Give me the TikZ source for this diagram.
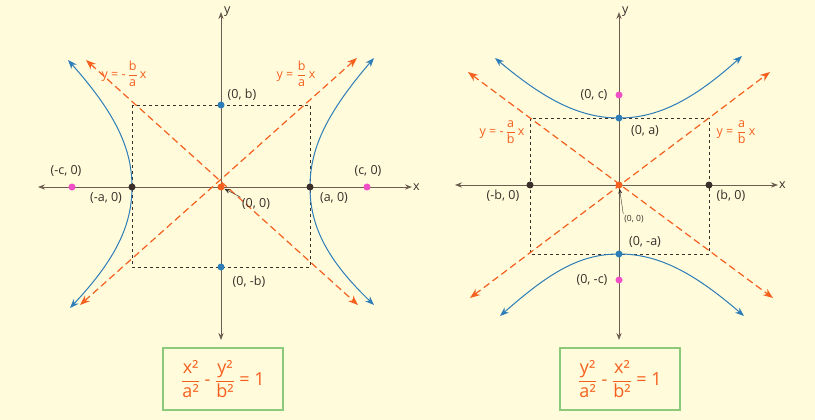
\documentclass[tikz,border=0pt]{standalone}
\usepackage{fontspec}
\usepackage{amsmath}
\setmainfont{Open Sans}
\usetikzlibrary{arrows.meta,positioning}
\definecolor{bgyel}{HTML}{FFFBDB}
\definecolor{asym}{HTML}{F5601E}
\definecolor{curve}{HTML}{2D7DB8}
\definecolor{focus}{HTML}{F04FC6}
\definecolor{axis}{HTML}{6E5E52}
\definecolor{ink}{HTML}{3A2F2A}
\definecolor{frame}{HTML}{8CC97A}
\newcommand{\fr}[2]{$\dfrac{\text{#1}}{\text{#2}}$}
\tikzset{
  axisline/.style={draw=axis,line width=1pt,{Stealth[length=7pt]}-{Stealth[length=7pt]}},
  asymline/.style={draw=asym,dashed,dash pattern=on 7pt off 4pt,line width=1.2pt,{Stealth[length=10pt]}-{Stealth[length=10pt]}},
  branch/.style={draw=curve,line width=1pt,{Stealth[length=9pt]}-{Stealth[length=9pt]}},
  boxline/.style={draw=ink,dashed,line width=0.8pt},
  dot/.style={circle,fill=#1,inner sep=0pt,minimum size=7pt},
  lbl/.style={text=ink,font=\fontsize{12.5}{14}\selectfont,inner sep=1pt},
  albl/.style={text=asym,font=\fontsize{12.5}{14}\selectfont,inner sep=1pt},
  eqbox/.style={draw=frame,line width=1.2pt,minimum width=120pt,minimum height=62pt,text=asym,font=\fontsize{18}{20}\selectfont}
}
\begin{document}
\begin{tikzpicture}[x=1pt,y=-1pt]
  \fill[bgyel] (0,0) rectangle (815,420);
  % left: x^2/a^2 - y^2/b^2 = 1
  \coordinate (lxl) at (38,187); \coordinate (lxr) at (412,187);
  \coordinate (lyt) at (221,12); \coordinate (lyb) at (221,340);
  \draw[axisline] (lxl) -- (lxr);
  \draw[axisline] (lyt) -- (lyb);
  \node[lbl,right] at (lxr) {x};
  \node[lbl,right=2pt] at (lyt) {y};
  \draw[boxline] (132,105) rectangle (310,267);
  \coordinate (lul) at (86,60); \coordinate (llr) at (358,305);
  \coordinate (lur) at (357,58); \coordinate (lll) at (80,305);
  \draw[asymline] (lul) -- (llr);
  \draw[asymline] (lll) -- (lur);
  \draw[branch] (374,58) .. controls (325,115) and (310,150) .. (310,187)
                .. controls (310,224) and (325,258) .. (374,305);
  \draw[branch] (68,60) .. controls (117,115) and (132,150) .. (132,187)
                .. controls (132,224) and (117,258) .. (70,308);
  \node[dot=ink] (lva) at (132,187) {}; \node[dot=ink] (lvb) at (310,187) {};
  \node[dot=focus] (lfa) at (72,187) {}; \node[dot=focus] (lfb) at (367,187) {};
  \node[dot=curve] (lcb) at (221,105) {}; \node[dot=curve] (lcd) at (221,267) {};
  \node[dot=asym] (lo) at (221,187) {};
  \node[albl] at (124,74) {y = -\,\fr{b}{a}\,x};
  \node[albl] at (296,74) {y = \fr{b}{a}\,x};
  \node[lbl] at (242,95) {(0, b)};
  \node[lbl] at (249,282) {(0, -b)};
  \node[lbl] at (66,171) {(-c, 0)};
  \node[lbl] at (368,171) {(c, 0)};
  \node[lbl] at (106,198) {(-a, 0)};
  \node[lbl] at (334,198) {(a, 0)};
  \node[lbl] (llo) at (256,204) {(0, 0)};
  \draw[ink,-{Stealth[length=6pt]}] (llo.north west) -- (lo);
  \node[eqbox] (leq) at (223,379) {\fr{x²}{a²} - \fr{y²}{b²} = 1};
  % right: y^2/a^2 - x^2/b^2 = 1
  \coordinate (rxl) at (455,185); \coordinate (rxr) at (778,185);
  \coordinate (ryt) at (619,12); \coordinate (ryb) at (619,340);
  \draw[axisline] (rxl) -- (rxr);
  \draw[axisline] (ryt) -- (ryb);
  \node[lbl,right] at (rxr) {x};
  \node[lbl,right=2pt] at (ryt) {y};
  \draw[boxline] (530,118) rectangle (709,254);
  \coordinate (rul) at (468,72); \coordinate (rlr) at (773,298);
  \coordinate (rur) at (770,72); \coordinate (rll) at (470,298);
  \draw[asymline] (rul) -- (rlr);
  \draw[asymline] (rll) -- (rur);
  \draw[branch] (495,58) .. controls (545,100) and (580,118) .. (619,118)
                .. controls (658,118) and (693,100) .. (742,56);
  \draw[branch] (500,316) .. controls (550,272) and (580,254) .. (619,254)
                .. controls (658,254) and (693,272) .. (744,316);
  \node[dot=ink] (rva) at (530,185) {}; \node[dot=ink] (rvb) at (709,185) {};
  \node[dot=focus] (rfa) at (619,95) {}; \node[dot=focus] (rfb) at (619,280) {};
  \node[dot=curve] (rca) at (619,118) {}; \node[dot=curve] (rcb) at (619,254) {};
  \node[dot=asym] (ro) at (619,185) {};
  \node[albl] at (502,132) {y = -\,\fr{a}{b}\,x};
  \node[albl] at (736,132) {y = \fr{a}{b}\,x};
  \node[lbl] at (594,95) {(0, c)};
  \node[lbl] at (645,131) {(0, a)};
  \node[lbl] at (645,242) {(0, -a)};
  \node[lbl] at (592,280) {(0, -c)};
  \node[lbl] at (503,196) {(-b, 0)};
  \node[lbl] at (731,196) {(b, 0)};
  \node[lbl,font=\fontsize{8.5}{10}\selectfont] (rlo) at (634,219) {(0, 0)};
  \draw[ink,-{Stealth[length=5pt]}] (rlo.north west) -- (ro);
  \node[eqbox] (req) at (620,379) {\fr{y²}{a²} - \fr{x²}{b²} = 1};
\end{tikzpicture}
\end{document}
